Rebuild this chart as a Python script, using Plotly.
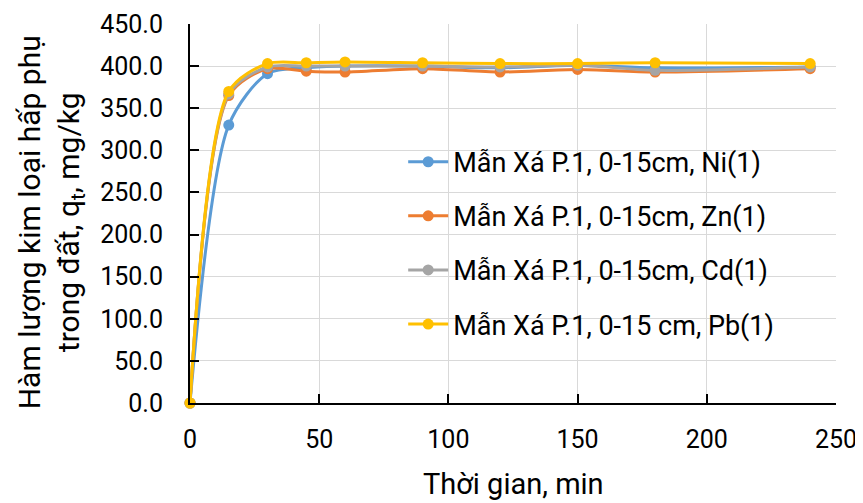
import plotly.graph_objects as go

time_min = [0, 15, 30, 45, 60, 90, 120, 150, 180, 240]
ni = [0, 330, 391, 398, 400, 400, 398, 401, 398, 399]
zn = [0, 365, 397, 394, 393, 397, 393, 396, 393, 397]
cd = [0, 367, 399, 400, 400, 400, 399, 401, 395, 399]
pb = [0, 370, 403, 404, 405, 404, 403, 403, 404, 403]

names = [
    "Mẫn Xá P.1, 0-15cm, Ni(1)",
    "Mẫn Xá P.1, 0-15cm, Zn(1)",
    "Mẫn Xá P.1, 0-15cm, Cd(1)",
    "Mẫn Xá P.1, 0-15 cm, Pb(1)",
]
colors = ["#5B9BD5", "#ED7D31", "#A5A5A5", "#FFC000"]
series = [ni, zn, cd, pb]

FONT = "Roboto"
fig = go.Figure()
for i, (name, ys, c) in enumerate(zip(names, series, colors)):
    fig.add_trace(go.Scatter(
        x=time_min, y=ys, name=name, mode="lines+markers",
        line=dict(color=c, width=3, shape="spline", smoothing=0.8),
        marker=dict(color=c, size=11),
        legendgroup=f"g{i}", cliponaxis=False,
    ))

# page body has an 8px margin; figure is sized to fill the rest of the window
fig.update_layout(
    width=855, height=495,
    margin=dict(l=182, r=27, t=16, b=100),
    paper_bgcolor="white", plot_bgcolor="white",
    font=dict(family=FONT, size=25, color="black"),
    showlegend=True,
    legend=dict(
        x=0.33, y=0.70, xanchor="left", yanchor="top",
        bgcolor="rgba(0,0,0,0)", font=dict(family=FONT, size=27, color="black"),
        tracegroupgap=16, itemwidth=40,
    ),
    xaxis=dict(
        range=[0, 250], dtick=50, tick0=0, automargin=False,
        showgrid=True, gridcolor="#D9D9D9", gridwidth=1,
        showline=True, linecolor="black", linewidth=2,
        ticks="inside", ticklen=9, tickcolor="black", tickwidth=2,
        tickfont=dict(family=FONT, size=25), zeroline=False,
        ticklabelstandoff=13,
    ),
    yaxis=dict(
        range=[0, 450], dtick=50, tick0=0, tickformat=".1f", automargin=False,
        showgrid=True, gridcolor="#D9D9D9", gridwidth=1,
        showline=True, linecolor="black", linewidth=2,
        ticks="inside", ticklen=9, tickcolor="black", tickwidth=2,
        tickfont=dict(family=FONT, size=25), zeroline=False,
        ticklabelstandoff=20,
    ),
    annotations=[
        dict(
            text="Thời gian, min", xref="paper", yref="paper",
            x=0.5, y=-0.214, xanchor="center", yanchor="middle",
            showarrow=False, font=dict(family=FONT, size=29, color="black"),
        ),
        dict(
            text="Hàm lượng kim loại hấp phụ<br>trong đất, q<sub>t</sub>, mg/kg",
            xref="paper", yref="paper", x=-0.2156, y=0.476,
            xanchor="center", yanchor="middle", textangle=-90,
            showarrow=False, font=dict(family=FONT, size=30, color="black"),
        ),
    ],
)

fig.write_html("out.html")
